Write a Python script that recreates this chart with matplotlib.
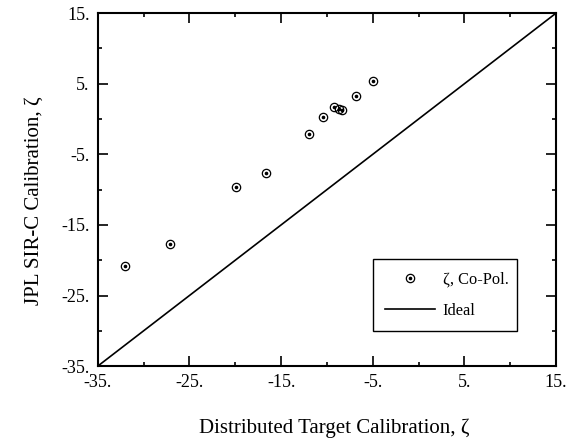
import numpy as np
import matplotlib
matplotlib.use("Agg")
import matplotlib.pyplot as plt
from matplotlib.ticker import FixedLocator, FuncFormatter

# distributed target vs JPL calibration, co-pol zeta (dB)
dist_target = [-32.0, -27.1, -19.9, -16.7, -11.9, -10.4, -9.2, -8.7, -8.3, -6.8, -5.0]
jpl_sirc = [-20.8, -17.7, -9.6, -7.6, -2.1, 0.3, 1.7, 1.4, 1.35, 3.2, 5.35]
ideal = [-35, 15]
major_ticks = [-35, -25, -15, -5, 5, 15]
minor_ticks = [-30, -20, -10, 0, 10]

plt.rcParams['font.family'] = ['Liberation Serif', 'DejaVu Serif']

fig = plt.figure(figsize=(5.72, 4.4), dpi=100)
ax = fig.add_axes([0.171, 0.168, 0.801, 0.802])

# circle-with-dot markers
circ, = ax.plot(dist_target, jpl_sirc, linestyle='none', marker='o', ms=6,
                mfc='none', mec='black', mew=0.9)
dot, = ax.plot(dist_target, jpl_sirc, linestyle='none', marker='o', ms=1.6,
               mfc='black', mec='black')
line, = ax.plot(ideal, ideal, color='black', lw=1.2)

ax.set_xlim(-35, 15)
ax.set_ylim(-35, 15)
for axis in (ax.xaxis, ax.yaxis):
    axis.set_major_locator(FixedLocator(major_ticks))
    axis.set_minor_locator(FixedLocator(minor_ticks))
    axis.set_major_formatter(FuncFormatter(lambda v, p: f"{v:g}."))
ax.tick_params(which='both', direction='in', top=True, right=True,
               labelsize=13, width=1.2)
ax.tick_params(which='major', length=7, pad=6)
ax.tick_params(which='minor', length=3)
for s in ax.spines.values():
    s.set_linewidth(1.5)

ax.set_xlabel("Distributed Target Calibration, ζ", fontsize=15)
ax.set_ylabel("JPL SIR-C Calibration, ζ", fontsize=15)
ax.xaxis.set_label_coords(0.515, -0.148)
ax.yaxis.set_label_coords(-0.117, 0.47)

leg = ax.legend([(circ, dot), line], ["ζ, Co-Pol.", "Ideal"],
                loc='upper left', bbox_to_anchor=(0.6, 0.303, 0.315, 0.0),
                mode='expand', borderaxespad=0, fontsize=11.8,
                handlelength=3.0, labelspacing=0.9, borderpad=0.78,
                handletextpad=0.5, fancybox=False, framealpha=1,
                edgecolor='black')
leg.get_frame().set_linewidth(1.0)

fig.savefig("out.png", dpi=100)
